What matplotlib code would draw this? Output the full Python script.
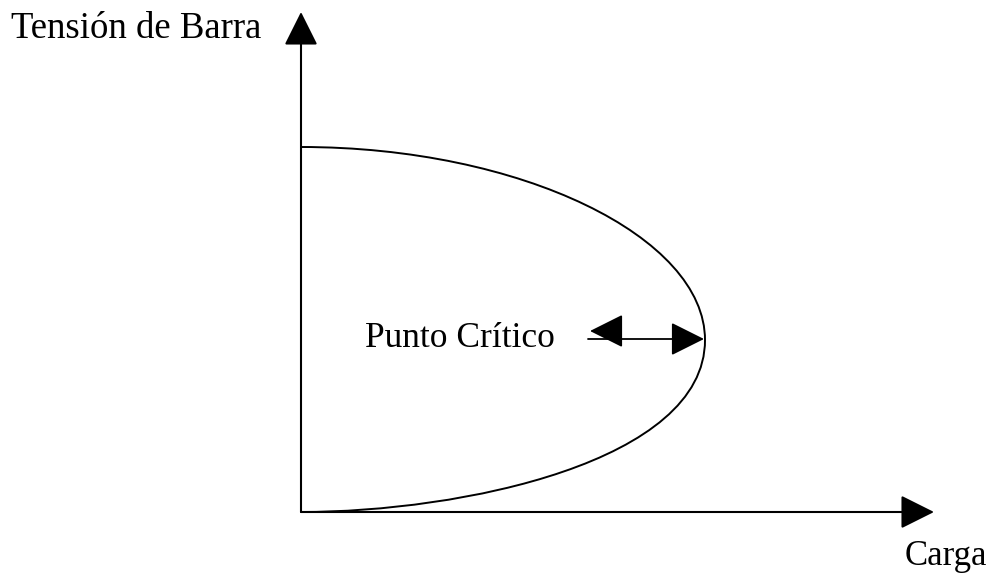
import matplotlib
matplotlib.use("Agg")
import matplotlib.pyplot as plt
from matplotlib.path import Path
from matplotlib.patches import PathPatch

# curva PV (nariz), unidades arbitrarias: puntos de control Bezier (carga, tension)
rama_superior = [(0.0, 3.65), (2.2, 3.65), (4.04, 2.75), (4.04, 1.72)]
rama_inferior = [(4.04, 1.72), (4.04, 0.50), (1.6, 0.0), (0.0, 0.0)]

punto_critico = (4.03, 1.73)
inicio_flecha = 2.87

plt.rcParams['font.family'] = ['Liberation Serif', 'DejaVu Serif']

fig = plt.figure(figsize=(9.94, 5.75), dpi=100)
ax = fig.add_axes([0, 0, 1, 1])
ax.set_xlim(-3.01, 6.93)
ax.set_ylim(-0.63, 5.12)
ax.axis('off')

flecha = dict(arrowstyle='-|>,head_length=0.7,head_width=0.35',
              mutation_scale=30, lw=1.5, color='k', shrinkA=0, shrinkB=0)

# ejes
ax.annotate('', xy=(0, 5.00), xytext=(0, 0), arrowprops=flecha)
ax.annotate('', xy=(6.33, 0), xytext=(0, 0), arrowprops=flecha)

# curva
verts = rama_superior + rama_inferior[1:]
codes = [Path.MOVETO] + [Path.CURVE4] * 6
ax.add_patch(PathPatch(Path(verts, codes), facecolor='none', edgecolor='k', lw=1.4))

# flecha doble del punto critico
ax.annotate('', xy=punto_critico, xytext=(inicio_flecha, punto_critico[1]),
            arrowprops=dict(arrowstyle='-|>,head_length=0.7,head_width=0.35',
                            mutation_scale=30, lw=1.3, color='k',
                            shrinkA=0, shrinkB=0))
ax.annotate('', xy=(inicio_flecha + 0.02, punto_critico[1] + 0.08),
            xytext=(inicio_flecha + 0.30, punto_critico[1] + 0.08),
            arrowprops=dict(arrowstyle='-|>,head_length=0.7,head_width=0.35',
                            mutation_scale=30, lw=1.3, color='k',
                            shrinkA=0, shrinkB=0))

ax.text(-2.90, 4.74, 'Tensión de Barra', fontsize=26.5, ha='left', va='baseline')
ax.text(0.64, 1.65, 'Punto Crítico', fontsize=25.5, ha='left', va='baseline')
ax.text(6.86, -0.53, 'Carga', fontsize=25, ha='right', va='baseline')

fig.savefig('out.png', dpi=100)
